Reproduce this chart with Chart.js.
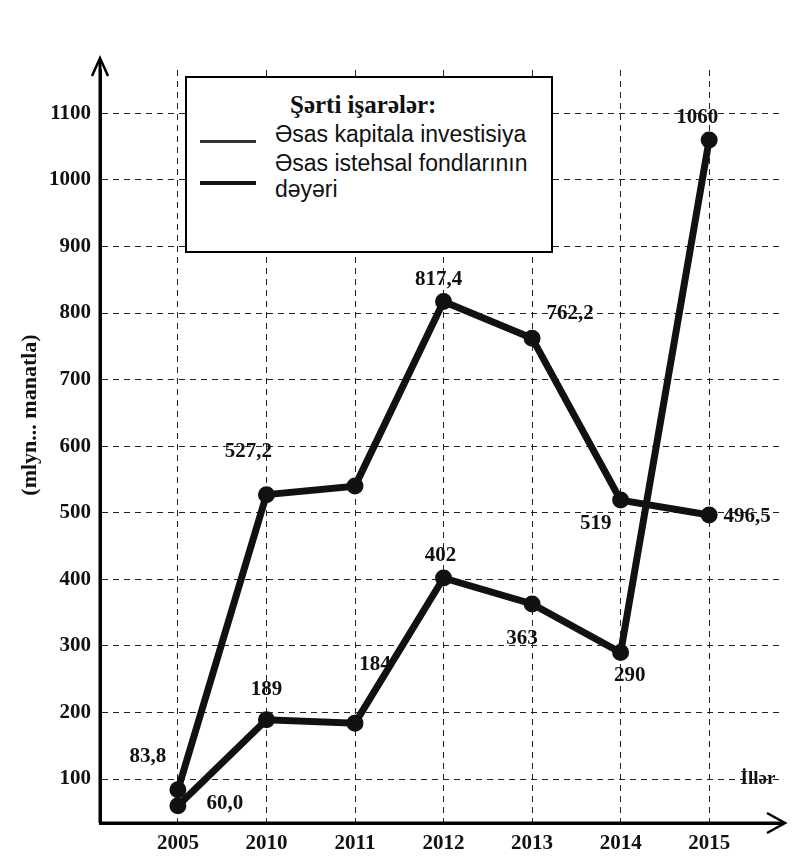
<!DOCTYPE html>
<html>
<head>
<meta charset="utf-8">
<script src="https://cdn.jsdelivr.net/npm/chart.js@4/dist/chart.umd.min.js"></script>
<style>
  body { margin: 0; background: #fff; }
  #wrap { position: relative; width: 794px; height: 868px; }
  #legend {
    position: absolute; left: 185px; top: 76px; width: 364px; height: 173px;
    border: 2px solid #000; background: #fff; color: #111;
  }
  #legend .ttl { position: absolute; left: 103px; top: 12px; font: bold 25px "Liberation Serif", serif; line-height: 29px; }
  #legend .txt { position: absolute; left: 88px; font: 23px "Liberation Sans", Arial, sans-serif; line-height: 26px; }
  #legend .ln { position: absolute; left: 13px; width: 56px; background: #111; }
</style>
</head>
<body>
<div id="wrap">
  <canvas id="myChart" width="794" height="868"></canvas>
  <div id="legend">
    <div class="ttl">Şərti işarələr:</div>
    <div class="ln" style="top:62px;height:3px;background:#333"></div>
    <div class="txt" style="top:43px">Əsas kapitala investisiya</div>
    <div class="ln" style="top:103px;height:4px"></div>
    <div class="txt" style="top:72px">Əsas istehsal fondlarının<br>dəyəri</div>
  </div>
</div>
<script>
var years = ["2005", "2010", "2011", "2012", "2013", "2014", "2015"];
var investValues = [83.8, 527.2, 540, 817.4, 762.2, 519, 496.5];
var fondValues = [60.0, 189, 184, 402, 363, 290, 1060];
var investLabels = ["83,8", "527,2", "", "817,4", "762,2", "519", "496,5"];
var fondLabels = ["60,0", "189", "184", "402", "363", "290", "1060"];
var yTicks = [100, 200, 300, 400, 500, 600, 700, 800, 900, 1000, 1100];

// label offsets from each point (px)
var investOffsets = [[-30, -33], [-18, -43], [0, 0], [-5, -22], [38, -25], [-25, 23], [38, 2]];
var fondOffsets = [[47, -2], [0, -30], [20, -59], [-3, -22], [-10, 35], [9, 23], [-12, -22]];

var serif = '"Liberation Serif", "Times New Roman", serif';

function pts(vals) {
  return vals.map(function (v, i) { return { x: i, y: v }; });
}

var extras = {
  id: 'extras',
  afterDraw: function (chart) {
    var ctx = chart.ctx;
    var a = chart.chartArea;
    ctx.save();
    // axes with arrows
    ctx.strokeStyle = '#000';
    ctx.lineWidth = 3;
    ctx.setLineDash([]);
    ctx.beginPath();
    ctx.moveTo(a.left, a.bottom);
    ctx.lineTo(a.left, 60);
    ctx.moveTo(a.left, a.bottom);
    ctx.lineTo(783, a.bottom);
    ctx.stroke();
    ctx.lineWidth = 2.5;
    ctx.beginPath();
    ctx.moveTo(a.left - 8, 76);
    ctx.lineTo(a.left, 58);
    ctx.lineTo(a.left + 8, 76);
    ctx.moveTo(767, a.bottom - 10);
    ctx.lineTo(785, a.bottom);
    ctx.lineTo(767, a.bottom + 10);
    ctx.stroke();

    // value labels
    ctx.fillStyle = '#111';
    ctx.font = 'bold 21px ' + serif;
    ctx.textAlign = 'center';
    ctx.textBaseline = 'middle';
    [[0, investLabels, investOffsets], [1, fondLabels, fondOffsets]].forEach(function (s) {
      var meta = chart.getDatasetMeta(s[0]);
      meta.data.forEach(function (p, i) {
        if (!s[1][i]) return;
        ctx.fillText(s[1][i], p.x + s[2][i][0], p.y + s[2][i][1]);
      });
    });

    // axis captions
    ctx.font = 'bold 19px ' + serif;
    ctx.fillText('İllər', 758, 779);
    ctx.translate(30, 415);
    ctx.rotate(-Math.PI / 2);
    ctx.font = 'bold 22px ' + serif;
    ctx.fillText('(mlyn... manatla)', 0, 0);
    ctx.restore();
  }
};

var ctx = document.getElementById("myChart").getContext('2d');
var myChart = new Chart(ctx, {
  type: 'line',
  plugins: [extras],
  data: {
    datasets: [{
      label: "Əsas kapitala investisiya",
      data: pts(investValues),
      borderColor: "#111",
      backgroundColor: "#111",
      borderWidth: 7,
      pointRadius: 5,
      tension: 0
    }, {
      label: "Əsas istehsal fondlarının dəyəri",
      data: pts(fondValues),
      borderColor: "#111",
      backgroundColor: "#111",
      borderWidth: 7,
      pointRadius: 5,
      tension: 0
    }]
  },
  options: {
    responsive: false,
    animation: false,
    devicePixelRatio: 1,
    layout: { padding: { top: 70, right: 14, left: 0, bottom: 0 } },
    plugins: {
      legend: { display: false },
      tooltip: { enabled: false }
    },
    scales: {
      x: {
        type: 'linear',
        min: -0.88,
        max: 6.8,
        afterBuildTicks: function (s) {
          s.ticks = years.map(function (y, i) { return { value: i }; });
        },
        afterFit: function (s) { s.height = 45; },
        ticks: {
          color: '#111',
          font: { family: serif, size: 21, weight: 'bold' },
          padding: 8,
          maxRotation: 0,
          callback: function (v) { return years[v]; }
        },
        grid: { color: '#222', lineWidth: 1, drawTicks: false },
        border: { display: true, color: '#000', width: 3, dash: [6, 5] }
      },
      y: {
        min: 34,
        max: 1165,
        afterBuildTicks: function (s) {
          s.ticks = yTicks.map(function (v) { return { value: v }; });
        },
        afterFit: function (s) { s.width = 100; },
        ticks: {
          color: '#111',
          font: { family: serif, size: 21, weight: 'bold' },
          padding: 9,
          callback: function (v) { return String(v); }
        },
        grid: { color: '#222', lineWidth: 1, drawTicks: false },
        border: { display: true, color: '#000', width: 3, dash: [6, 5] }
      }
    }
  }
});
</script>
</body>
</html>
